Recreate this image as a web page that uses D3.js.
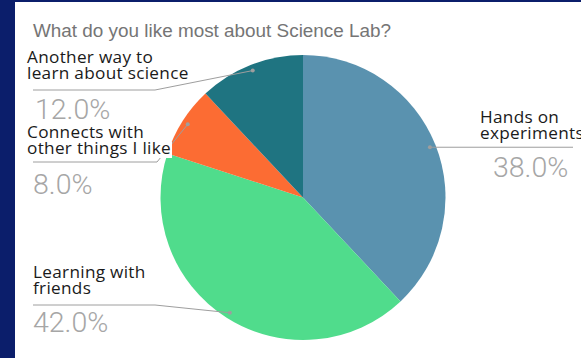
<!DOCTYPE html>
<html>
<head>
<meta charset="utf-8">
<script src="https://cdn.jsdelivr.net/npm/d3@7/dist/d3.min.js"></script>
<style>
  html, body { margin: 0; padding: 0; background: #0b1e6b; }
  svg { display: block; }
</style>
</head>
<body>
<svg id="chart" width="581" height="358"></svg>
<script>
// Survey answers
const categories = [
  "Hands on experiments",
  "Learning with friends",
  "Connects with other things I like",
  "Another way to learn about science"
];
const values = [38, 42, 8, 12];
const sliceColors = ["#5a92af", "#50dc8c", "#fc6c33", "#1f7481"];
const labelLines = [
  ["Hands on", "experiments"],
  ["Learning with", "friends"],
  ["Connects with", "other things I like"],
  ["Another way to", "learn about science"]
];
const title = "What do you like most about Science Lab?";

const W = 581, H = 358;
const svg = d3.select("#chart");

// white chart card inside the navy frame
svg.append("rect").attr("x", 15).attr("y", 2).attr("width", W - 15).attr("height", H - 2).attr("fill", "#ffffff");

svg.append("text")
  .attr("x", 33).attr("y", 37)
  .attr("font-family", "Liberation Sans, Arial, sans-serif")
  .attr("font-size", 18.9)
  .attr("fill", "#757575")
  .text(title);

const cx = 303, cy = 197.5, R = 142.5;
const g = svg.append("g").attr("transform", `translate(${cx},${cy})`);

const pie = d3.pie().sort(null).value(d => d);
const arcs = pie(values);
const arc = d3.arc().innerRadius(0).outerRadius(R);
const dotArc = d3.arc().innerRadius(R * 0.958).outerRadius(R * 0.958);

g.selectAll("path.slice")
  .data(arcs)
  .join("path")
  .attr("class", "slice")
  .attr("d", arc)
  .attr("fill", (d, i) => sliceColors[i]);

// label placement: text anchor, elbow of the leader, and end of the leader line
const place = [
  { tx: 480, ty: 123, px: 493, py: 177, elbow: null, endX: 573 },
  { tx: 33, ty: 278, px: 33, py: 332, elbow: [155, 305], endX: 33 },
  { tx: 27, ty: 138, px: 33, py: 194, elbow: [157, 162], endX: 33, boxed: true },
  { tx: 27, ty: 63, px: 35, py: 119, elbow: [155, 90], endX: 33 }
];

const fmt = d3.format(".1f");
const labels = svg.append("g");

arcs.forEach((a, i) => {
  const p = place[i];
  const c = dotArc.centroid(a);
  const dot = [cx + c[0], cy + c[1]];
  const pts = p.elbow
    ? [dot, p.elbow, [p.endX, p.elbow[1]]]
    : [dot, [p.endX, dot[1]]];
  labels.append("path")
    .attr("d", d3.line()(pts))
    .attr("fill", "none")
    .attr("stroke", "#9e9e9e")
    .attr("stroke-width", 1);
  labels.append("circle")
    .attr("cx", dot[0]).attr("cy", dot[1]).attr("r", 2)
    .attr("fill", "#9e9e9e");
});

arcs.forEach((a, i) => {
  const p = place[i];
  const t = labels.append("text")
    .attr("font-family", "'Open Sans', sans-serif")
    .attr("font-size", 17.2)
    .attr("letter-spacing", 0.3)
    .attr("fill", "#1a1a1a");
  labelLines[i].forEach((line, k) => {
    t.append("tspan").attr("x", p.tx).attr("y", p.ty + k * 16).text(line);
  });
  if (p.boxed) {
    const bb = t.node().getBBox();
    labels.insert("rect", () => t.node())
      .attr("x", bb.x - 1).attr("y", p.ty + 4).attr("width", bb.width + 2).attr("height", 16)
      .attr("fill", "#ffffff");
  }
  labels.append("text")
    .attr("x", p.px).attr("y", p.py)
    .attr("font-family", "Roboto, sans-serif")
    .attr("font-weight", 300)
    .attr("font-size", 28.5)
    .attr("fill", "#a6a6a6")
    .text(fmt(values[i]) + "%");
});
</script>
</body>
</html>
